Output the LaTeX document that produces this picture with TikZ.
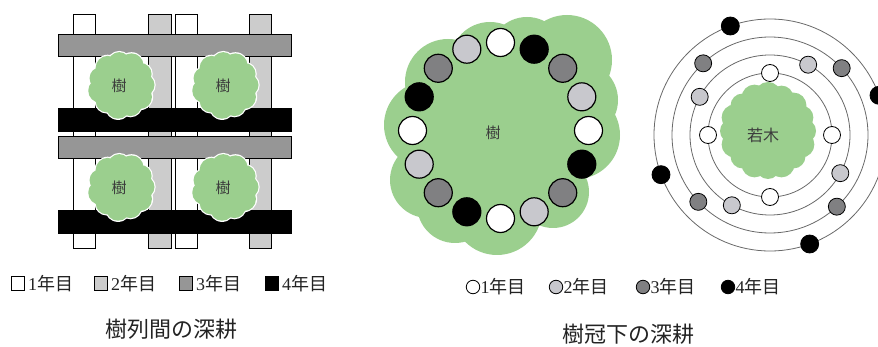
\documentclass[tikz,border=0pt]{standalone}
\usepackage{fontspec}
\setmainfont{Liberation Serif}
\newfontfamily\jp{Noto Sans CJK JP}
\usetikzlibrary{calc}

\definecolor{leaf}{RGB}{155,207,142}
\definecolor{barmid}{RGB}{150,150,150}
\definecolor{barlight}{RGB}{204,204,204}
\definecolor{dotlight}{RGB}{200,200,205}
\definecolor{dotdark}{RGB}{128,128,130}
\definecolor{ringline}{RGB}{105,105,105}
\definecolor{labelgray}{RGB}{60,60,60}
\definecolor{textdark}{RGB}{35,35,35}

\tikzset{
  pics/smalltree/.style={code={
    \foreach \a/\r in {0/11,33/12,66/11,99/12,132/11,165/12,198/11,231/12,264/11,297/12,330/11}
      \fill[white] (\a:22) circle ({\r+1.2});
    \fill[white] (0,0) circle (23);
    \foreach \a/\r in {0/11,33/12,66/11,99/12,132/11,165/12,198/11,231/12,264/11,297/12,330/11}
      \fill[leaf] (\a:22) circle (\r);
    \fill[leaf] (0,0) circle (22);
  }},
  pics/sapling/.style={code={
    \foreach \a/\r in {0/12,22/13,45/12,68/13,90/12,112/13,135/12,158/13,180/12,202/13,225/12,248/13,270/13,292/12,315/13,338/12}
      \fill[leaf] (\a:36) circle (\r);
    \fill[leaf] (0,0) circle (38);
  }},
  strip/.style={draw=black,line width=0.6pt},
  bar/.style={draw=black,line width=0.6pt},
  treelabel/.style={font=\jp\fontsize{15}{15}\selectfont,text=labelgray,inner sep=0pt},
  ring/.style={draw=ringline,line width=0.8pt},
  bigdot/.style={circle,draw=black,line width=1.2pt,minimum size=28pt,inner sep=0pt},
  smalldot/.style={circle,draw=black,line width=0.8pt,minimum size=17pt,inner sep=0pt},
  legsq/.style={rectangle,draw=black,line width=0.8pt,minimum size=13.5pt,inner sep=0pt},
  legdot/.style={circle,draw=black,line width=0.8pt,minimum size=13.5pt,inner sep=0pt},
  legtxt/.style={anchor=west,inner sep=0pt,text=textdark,font=\fontsize{18}{18}\selectfont},
  title/.style={inner sep=0pt,text=textdark,font=\jp\fontsize{22}{22}\selectfont},
}

\begin{document}
\begin{tikzpicture}[x=1pt,y=-1pt]
\useasboundingbox (0,0) rectangle (878,347);

% ---------- deep tillage between tree rows ----------
\foreach \x/\c in {73/white,148.3/barlight,175/white,249/barlight}
  \filldraw[strip,fill=\c] (\x,14.7) rectangle ++(22.6,233.3);
\filldraw[bar,fill=barmid] (58,34) rectangle (291,56);
\filldraw[bar,fill=black] (58,108) rectangle (291.5,131.3);
\filldraw[bar,fill=barmid] (58,136) rectangle (291,158);
\filldraw[bar,fill=black] (58,210) rectangle (291.5,233.3);

\pic at (121.5,85) {smalltree};
\pic at (225.5,85) {smalltree};
\pic at (121.5,187) {smalltree};
\pic at (225.5,187) {smalltree};
\node[treelabel] (t1) at (119,86) {樹};
\node[treelabel] (t2) at (223,86) {樹};
\node[treelabel] (t3) at (119,188) {樹};
\node[treelabel] (t4) at (223,188) {樹};

% ---------- deep tillage under the canopy ----------
\foreach \cx/\cy/\r in {448/82/43, 490/62/40, 527/55/38, 567/60/45, 580/100/38,
    576/135/44, 553/192/36, 497/210/45, 455/205/38, 428/180/38, 428/125/44}
  \fill[leaf] (\cx,\cy) circle (\r);
\fill[leaf] (500,135) circle (85);
\node[treelabel] (bigtree) at (493,133) {樹};

\coordinate (bc) at (500.5,130.5);
\foreach \k/\c in {0/white,1/black,2/dotdark,3/dotlight,4/white,5/black,6/dotdark,7/dotlight,
    8/white,9/black,10/dotdark,11/dotlight,12/white,13/black,14/dotdark,15/dotlight}
  \node[bigdot,fill=\c] (b\k) at ($(bc)+({-90+22.5*\k}:88)$) {};

% ---------- young tree with yearly rings ----------
\coordinate (rc) at (770,135);
\pic at (768,131) {sapling};
\node[treelabel,font=\jp\fontsize{16}{16}\selectfont] (young) at (763,135) {若木};
\foreach \r in {62,80,98,116}
  \draw[ring] (rc) circle (\r);
\foreach \k in {0,1,2,3} {
  \node[smalldot,fill=white] (w\k) at ($(rc)+({90*\k}:62)$) {};
  \node[smalldot,fill=dotlight] (l\k) at ($(rc)+({-61.5+90*\k}:80)$) {};
  \node[smalldot,fill=dotdark] (d\k) at ($(rc)+({-43+90*\k}:98)$) {};
  \node[smalldot,fill=black,minimum size=18pt] (k\k) at ($(rc)+({-20+90*\k}:116)$) {};
}

% ---------- legends ----------
\foreach \x/\c/\n in {11/white/1,94/barlight/2,179/barmid/3,265/black/4} {
  \node[legsq,fill=\c] (ls\n) at (\x+7,283.5) {};
  \node[legtxt] (lt\n) at (\x+17,283.5) {\n{\jp 年目}};
}
\foreach \x/\c/\n in {466/white/1,549/dotlight/2,636/dotdark/3,721/black/4} {
  \node[legdot,fill=\c] (lc\n) at (\x+7,287) {};
  \node[legtxt] (lr\n) at (\x+14.5,287) {\n{\jp 年目}};
}

% ---------- titles ----------
\node[title] (title1) at (171,329) {樹列間の深耕};
\node[title] (title2) at (628,334) {樹冠下の深耕};
\end{tikzpicture}
\end{document}
